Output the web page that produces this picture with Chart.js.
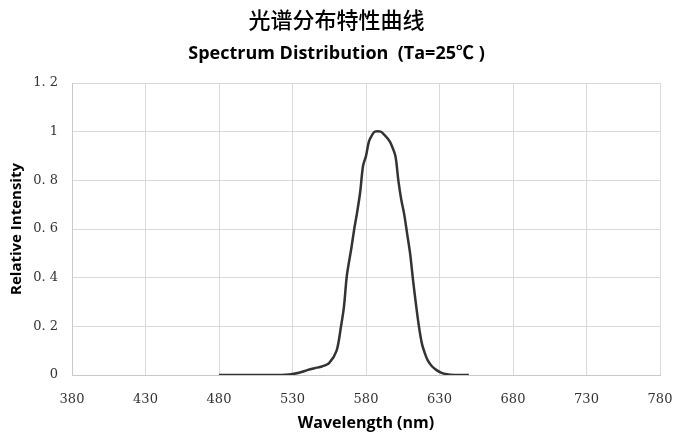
<!DOCTYPE html>
<html><head><meta charset="utf-8">
<script src="https://cdn.jsdelivr.net/npm/chart.js@4"></script>
<style>html,body{margin:0;padding:0;background:#fff}#wrap{width:673px;height:433px}</style>
</head><body><div id="wrap"><canvas id="c"></canvas></div>
<script>
const wavelengths = [480,485,490,495,500,505,510,515,520,525,530,535,540,545,550,555,560,563,565,567,570,572,574,576,578,580,582,584,586,590,592,595,597,600,602,604,606,608,610,612,614,616,618,620,622,625,628,631,635,640,645,650];
const intensity   = [0,0,0,0,0,0,0,0,0,0.001,0.004,0.01,0.02,0.028,0.035,0.05,0.1,0.2,0.28,0.41,0.52,0.6,0.67,0.75,0.86,0.9,0.96,0.985,1.0,1.0,0.99,0.97,0.95,0.9,0.8,0.72,0.66,0.58,0.5,0.39,0.29,0.2,0.13,0.09,0.06,0.035,0.02,0.01,0.003,0,0,0];
const xTicks = [380,430,480,530,580,630,680,730,780];
const yTicks = [0,0.2,0.4,0.6,0.8,1,1.2];
const titleZh = '光谱分布特性曲线';
const titleEn = 'Spectrum Distribution  (Ta=25℃ )';
const xTitle = 'Wavelength (nm)';
const yTitle = 'Relative Intensity';

const pts = wavelengths.map((w,i)=>({x:w,y:intensity[i]}));
const fmtY = v => { if (Math.abs(v) < 1e-9) return '0'; if (Math.abs(v-1)<1e-9) return '1'; return v.toFixed(1).replace('.', '. '); };

new Chart(document.getElementById('c'), {
  type: 'scatter',
  data: { datasets: [{ data: pts, showLine: true, borderColor: '#333333', borderWidth: 2.5, pointRadius: 0, tension: 0.3, fill: false }] },
  options: {
    responsive: true, maintainAspectRatio: false, animation: false,
    layout: { padding: { left: 0, right: 0, top: 0, bottom: 0 } },
    plugins: {
      legend: { display: false }, tooltip: { enabled: false },
      title: { display: true, text: titleZh, color: '#000', font: { family: 'Noto Sans CJK SC', size: 22, weight: '500' }, padding: { top: 6, bottom: 4 } },
      subtitle: { display: true, text: titleEn, color: '#000', font: { family: 'Open Sans, Noto Sans CJK SC', size: 18, weight: 'bold' }, padding: { top: 7, bottom: 18 } }
    },
    scales: {
      x: {
        type: 'linear', min: 380, max: 780,
        afterBuildTicks: s => { s.ticks = xTicks.map(v => ({ value: v })); },
        afterFit: s => { s.height = 58; s.paddingRight = 13; s.paddingLeft = 0; },
        ticks: { color: '#333', font: { family: 'DejaVu Serif', size: 13 }, padding: 17, maxRotation: 0 },
        grid: { color: '#d9d9d9', lineWidth: 1, drawTicks: false },
        border: { color: '#c8c8c8' },
        title: { display: true, text: xTitle, color: '#000', font: { family: 'Open Sans', size: 16, weight: 'bold', lineHeight: 1.15 }, padding: { top: 0, bottom: 0 } }
      },
      y: {
        min: 0, max: 1.2,
        afterBuildTicks: s => { s.ticks = yTicks.map(v => ({ value: v })); },
        afterFit: s => { s.width = 72; },
        ticks: { color: '#333', font: { family: 'DejaVu Serif', size: 13 }, padding: 14, callback: v => fmtY(v) },
        grid: { color: '#d9d9d9', lineWidth: 1, drawTicks: false },
        border: { color: '#c8c8c8' },
        title: { display: true, text: yTitle, color: '#000', font: { family: 'Open Sans', size: 15, weight: 'bold' }, padding: { top: 8, bottom: 0 } }
      }
    }
  }
});
</script></body></html>
